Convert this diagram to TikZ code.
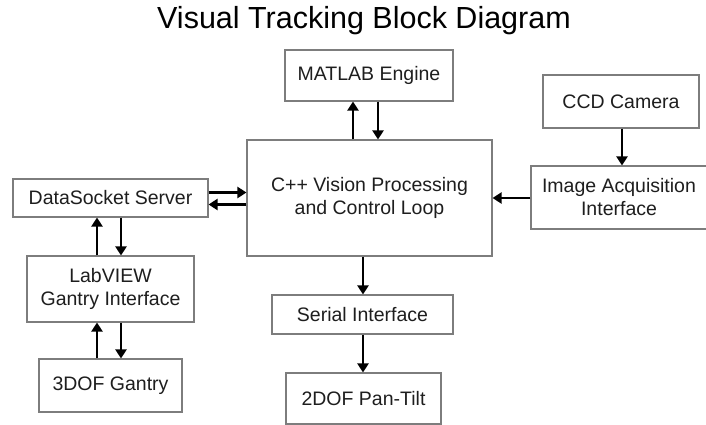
\documentclass[tikz,border=0pt]{standalone}
\usepackage{fontspec}
\setmainfont{Liberation Sans}
\usetikzlibrary{arrows.meta}
\definecolor{boxgray}{RGB}{125,125,125}
\definecolor{txt}{RGB}{30,30,30}
\tikzset{
  blk/.style={draw=boxgray, line width=1.1pt, inner sep=0pt, align=center,
    font=\fontsize{19.5}{23}\selectfont, text=txt},
  arr/.style={line width=2.8pt, -{Triangle[length=9pt,width=11pt]}},
}
\begin{document}
\begin{tikzpicture}[x=1pt,y=-1pt]
\fill[white] (0,0) rectangle (706,425);
\useasboundingbox (0,0) rectangle (706,425);
\node[anchor=base, font=\fontsize{30.5}{34}\selectfont, text=black] (title) at (364,28.5) {Visual Tracking Block Diagram};
\node[blk, minimum width=168pt, minimum height=51pt] (matlab) at (369,75.5) {MATLAB Engine};
\node[blk, minimum width=156pt, minimum height=53pt] (ccd) at (621,101.5) {CCD Camera};
\node[blk, minimum width=245pt, minimum height=116pt] (cpp) at (369.5,198) {C++ Vision Processing\\and Control Loop};
\node[blk, minimum width=195pt, minimum height=38pt] (ds) at (110.5,198) {DataSocket Server};
\node[blk, minimum width=176pt, minimum height=63pt] (img) at (619,197.5) {Image Acquisition\\Interface};
\node[blk, minimum width=167pt, minimum height=66pt] (lv) at (110.5,289) {LabVIEW\\Gantry Interface};
\node[blk, minimum width=181pt, minimum height=39pt] (ser) at (362.5,314.5) {Serial Interface};
\node[blk, minimum width=143pt, minimum height=53pt] (gan) at (110.5,385.5) {3DOF Gantry};
\node[blk, minimum width=155pt, minimum height=51pt] (pt) at (363.5,398.5) {2DOF Pan-Tilt};
\coordinate (xa) at (353,0);
\coordinate (xb) at (378,0);
\coordinate (xc) at (622,0);
\coordinate (ya) at (0,198);
\coordinate (yb) at (0,192.5);
\coordinate (yc) at (0,204.5);
\coordinate (xd) at (97,0);
\coordinate (xe) at (121,0);
\coordinate (xf) at (363,0);
\draw[arr] (cpp.north -| xa) -- (matlab.south -| xa);
\draw[arr] (matlab.south -| xb) -- (cpp.north -| xb);
\draw[arr] (ccd.south -| xc) -- (img.north -| xc);
\draw[arr] (img.west |- ya) -- (cpp.east |- ya);
\draw[arr] (ds.east |- yb) -- (cpp.west |- yb);
\draw[arr] (cpp.west |- yc) -- (ds.east |- yc);
\draw[arr] (lv.north -| xd) -- (ds.south -| xd);
\draw[arr] (ds.south -| xe) -- (lv.north -| xe);
\draw[arr] (gan.north -| xd) -- (lv.south -| xd);
\draw[arr] (lv.south -| xe) -- (gan.north -| xe);
\draw[arr] (cpp.south -| xf) -- (ser.north -| xf);
\draw[arr] (ser.south -| xf) -- (pt.north -| xf);
\end{tikzpicture}
\end{document}
